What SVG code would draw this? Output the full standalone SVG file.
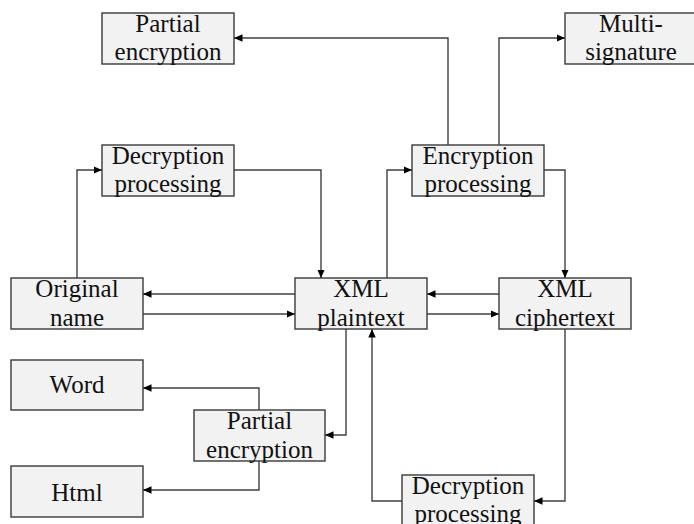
<svg xmlns="http://www.w3.org/2000/svg" width="694" height="524" viewBox="0 0 694 524">
  <style>
    .box rect { fill: #f2f2f2; stroke: #3a3a3a; stroke-width: 1.4; }
    .box text { font-family: "Liberation Serif", "Times New Roman", serif; font-size: 25px; fill: #111; text-anchor: middle; }
    .links path { fill: none; stroke: #404040; stroke-width: 1.4; marker-end: url(#arrow); }
  </style>
  <defs>
    <marker id="arrow" markerUnits="userSpaceOnUse" markerWidth="9" markerHeight="8" refX="8.5" refY="4" orient="auto">
      <path d="M0,0.3 L8.5,4 L0,7.7 z" fill="#000"/>
    </marker>
  </defs>
  <rect width="694" height="524" fill="#fff"/>

  <!-- connectors -->
  <g id="connectors" class="links">
    <path d="M448,145 V38 H234"/>
    <path d="M499,145 V38 H565"/>
    <path d="M77,278 V170 H102"/>
    <path d="M234,170 H321 V278"/>
    <path d="M387,278 V170 H412"/>
    <path d="M544,170 H565 V278"/>
    <path d="M295,294 H143"/>
    <path d="M143,314 H295"/>
    <path d="M499,294 H427"/>
    <path d="M427,314 H499"/>
    <path d="M346,329 V435 H325"/>
    <path d="M259,410 V388 H143"/>
    <path d="M259,461 V490 H143"/>
    <path d="M565,329 V501 H534"/>
    <path d="M402,501 H372 V329"/>
  </g>

  <!-- nodes -->
  <g id="partial-encryption-top" class="box">
    <rect x="102" y="13" width="132" height="51"/>
    <text x="168" y="32">Partial</text>
    <text x="168" y="60">encryption</text>
  </g>
  <g id="multi-signature" class="box">
    <rect x="565" y="13" width="132" height="51"/>
    <text x="631" y="32">Multi-</text>
    <text x="631" y="60">signature</text>
  </g>
  <g id="decryption-top" class="box">
    <rect x="102" y="145" width="132" height="51"/>
    <text x="168" y="163.5">Decryption</text>
    <text x="168" y="192">processing</text>
  </g>
  <g id="encryption" class="box">
    <rect x="412" y="145" width="132" height="51"/>
    <text x="478" y="163.5">Encryption</text>
    <text x="478" y="192">processing</text>
  </g>
  <g id="original-name" class="box">
    <rect x="11" y="278" width="132" height="51"/>
    <text x="77" y="296.5">Original</text>
    <text x="77" y="325.5">name</text>
  </g>
  <g id="xml-plaintext" class="box">
    <rect x="295" y="278" width="132" height="51"/>
    <text x="361" y="296.5">XML</text>
    <text x="361" y="325.5">plaintext</text>
  </g>
  <g id="xml-ciphertext" class="box">
    <rect x="499" y="278" width="132" height="51"/>
    <text x="565" y="296.5">XML</text>
    <text x="565" y="325.5">ciphertext</text>
  </g>
  <g id="word" class="box">
    <rect x="11" y="360" width="132" height="50"/>
    <text x="77" y="393">Word</text>
  </g>
  <g id="partial-encryption-bottom" class="box">
    <rect x="194" y="410" width="131" height="51"/>
    <text x="259.5" y="429">Partial</text>
    <text x="259.5" y="457.5">encryption</text>
  </g>
  <g id="html" class="box">
    <rect x="11" y="466" width="132" height="51"/>
    <text x="77" y="500.5">Html</text>
  </g>
  <g id="decryption-bottom" class="box">
    <rect x="402" y="475" width="132" height="51"/>
    <text x="468" y="493.5">Decryption</text>
    <text x="468" y="522">processing</text>
  </g>
</svg>
